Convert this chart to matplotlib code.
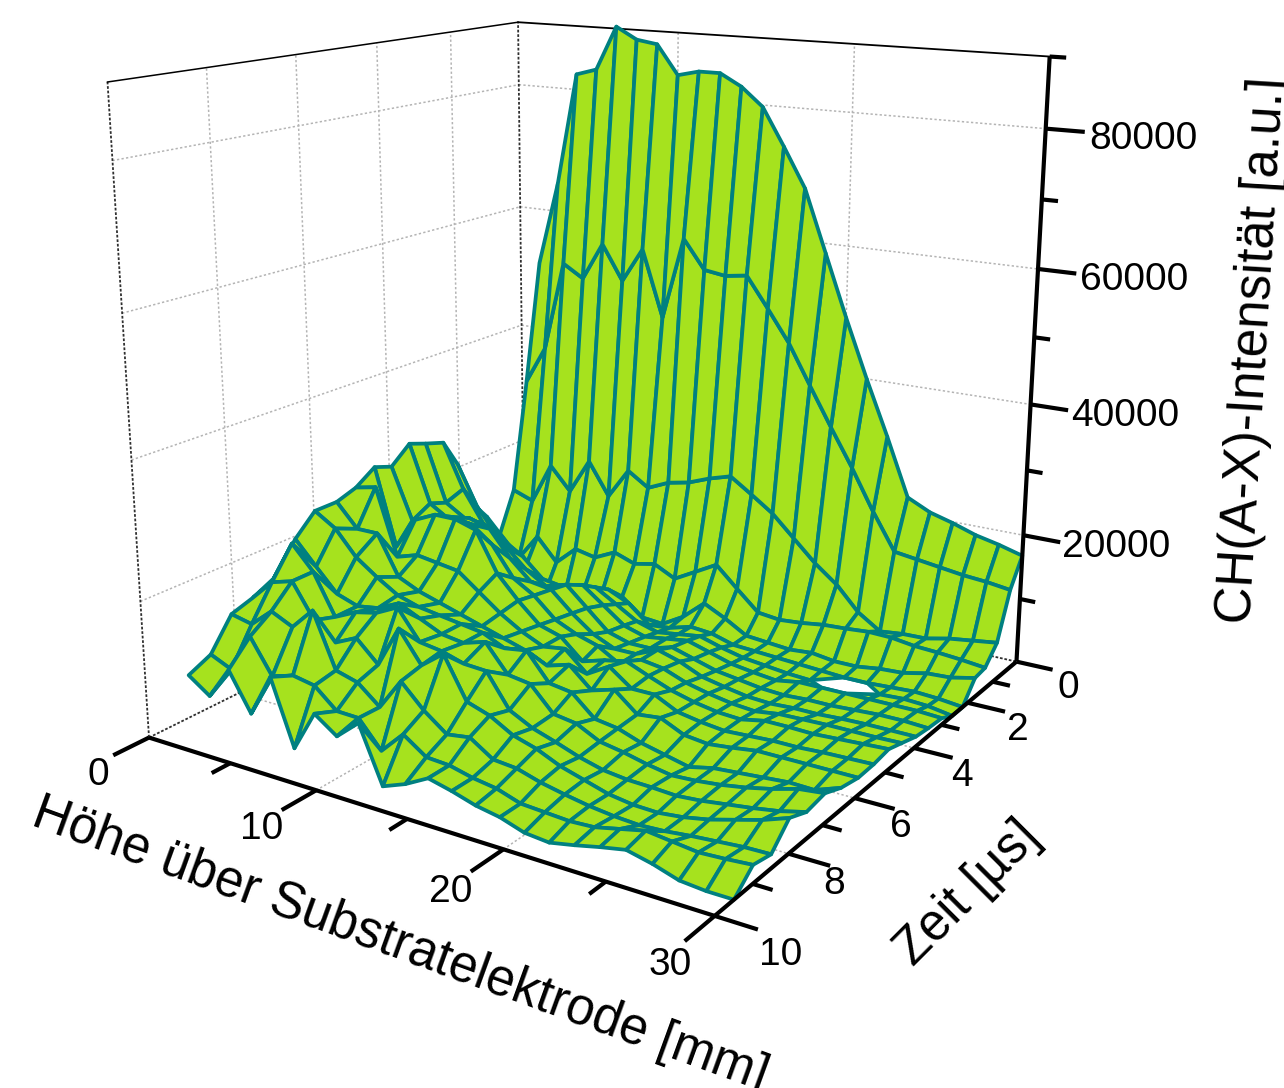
import warnings
import numpy as np
import matplotlib
matplotlib.use('Agg')
import matplotlib.pyplot as plt
from mpl_toolkits.mplot3d import proj3d

warnings.filterwarnings('ignore')
plt.rcParams['font.family'] = ['Liberation Sans', 'DejaVu Sans']

# height above substrate electrode [mm], time [us]
hoehe = [1.25, 2.5, 3.75, 5, 6.25, 7.5, 8.75, 10, 11.25, 12.5, 13.75, 15, 16.25, 17.5, 18.75, 20,
         21.25, 22.5, 23.75, 25, 26.25, 27.5, 28.75, 30]
zeit = [0, 0.45, 0.9, 1.35, 1.75, 2.2, 2.6, 3.0, 3.5, 3.95, 4.45, 4.9, 5.4, 5.9, 6.45, 6.95, 7.5, 8.0,
        8.5, 9.0, 9.5]
n = np.nan
# intensity in units of 100, one row per time step
intens = [
    [510, 645, 824, 834, 903, 885, 880, 835, 843, 843, 825, 797, 740, 680, 585, 490, 400, 315, 225, 208, 198, 186, 178, 168],
    [318, 379, 525, 505, 565, 510, 565, 460, 590, 545, 540, 545, 498, 449, 388, 328, 270, 207, 150, 145, 140, 135, 132, 127],
    [140, 128, 195, 158, 215, 163, 212, 190, 205, 212, 225, 235, 212, 188, 155, 122, 95, 58, 35, 39, 40, 48, 53, 58],
    [75, 40, 84, 47, 77, 70, 86, 74, 81, 64, 83, 102, 70, 39, 35, 38, 43, 45, 48, 47, 42, 40, 37, 33],
    [115, 50, 40, 2, 0, 20, 30, 30, 3, 0, 20, 50, 33, 13, 10, 7, 10, 5, 5, 10, 12, 20, 22, 30],
    [150, 115, 85, 60, 35, 25, 40, 55, 40, 12, 15, 25, 22, 12, 10, 8, 6, 4, 2, 2, 4, 6, 4, 0],
    [225, 160, 120, 95, 70, 50, 60, 70, 50, 30, 20, 25, 30, 20, 12, 8, 4, 2, n, n, 6, 8, 6, 0],
    [270, 200, 150, 130, 110, 80, 75, 85, 60, 35, 25, 30, 35, 25, 15, 10, 6, 12, 12, 12, 12, 12, 12, 10],
    [280, 190, 170, 165, 140, 110, 90, 100, 70, 40, 30, 30, 40, 30, 20, 15, 10, 8, 10, 10, 12, 14, 14, 12],
    [290, 200, 180, 190, 180, 140, 110, 105, 75, 50, 35, 35, 50, 40, 25, 18, 12, 10, 12, 12, 14, 15, 15, 15],
    [265, 185, 190, 205, 200, 175, 130, 110, 80, 65, 55, 35, 50, 45, 32, 24, 18, 15, 20, 21, 22, 22, 22, 23],
    [275, 155, 205, 220, 220, 210, 150, 115, 85, 75, 45, 55, 62, 48, 35, 26, 20, 18, 25, 25, 24, 26, 28, 30],
    [255, 262, 160, 170, 165, 160, 135, 110, 90, 75, 80, 50, 70, 45, 45, 28, 22, 18, 20, 22, 22, 24, 25, 26],
    [245, 210, 210, 150, 135, 125, 115, 105, 95, 85, 70, 80, 50, 60, 32, 36, 20, 16, 20, 25, 25, 25, 25, 25],
    [245, 225, 188, 165, 145, 135, 130, 125, 120, 105, 110, 70, 65, 35, 30, 18, 10, 2, 10, 13, 16, 19, 18, 31],
    [215, 180, 146, 135, 140, 155, 140, 125, 120, 130, 90, 85, 50, 45, 28, 22, 14, 8, 10, 14, 20, 28, 38, 42],
    [170, 230, 195, 135, 150, 157, 173, 130, 125, 115, 113, 65, 48, 37, 25, 16, 12, 11, 9, 12, 17, 22, 28, 37],
    [155, 186, 195, 145, 120, 135, 104, 165, 120, 145, 85, 74, 55, 45, 30, 20, 10, 5, 4, 8, 15, 25, 35, 48],
    [145, 138, 165, 150, 182, 103, 94, 67, 113, 80, 55, 60, 38, 35, 25, 18, 12, 8, 6, 8, 12, 15, 18, 19],
    [100, 86, 143, 93, 103, 97, 69, 68, 30, 63, 40, 38, 30, 25, 14, 12, 10, 12, 20, 28, 24, 20, 22, 25],
    [85, 63, 110, 55, 117, 23, 82, 59, 87, 7, 20, 38, 30, 20, 14, 3, 0, 7, 15, 22, 14, 3, 0, 0],
]

x_major = [0, 10, 20, 30]
x_minor = [5, 15, 25]
t_major = [0, 2, 4, 6, 8, 10]
t_minor = [1, 3, 5, 7, 9]
z_major = [0, 20000, 40000, 60000, 80000]
z_minor = [10000, 30000, 50000, 70000]
z_top = 90000

W, H = 1284, 1088
fig = plt.figure(figsize=(W / 100, H / 100), dpi=100)
L, left, top = 1096.17, 37.46, -137.0
ax = fig.add_axes([left / W, 1 - (top + L) / H, L / W, L / H], projection='3d', computed_zorder=False)
ax.view_init(elev=15.5631, azim=-56.9511, roll=0.0842)
ax.set_proj_type('persp', focal_length=0.3595)
ax.set_box_aspect((0.9986, 1.0003, 1.0))
ax.set_axis_off()

X, T = np.meshgrid(hoehe, zeit)
Z = np.array(intens, float) * 100
ax.plot_surface(X, T, Z, rstride=1, cstride=1, color='#A6E21E', edgecolor='#008080', linewidth=2.7,
                shade=False, antialiased=True, zorder=3)

grid_kw = dict(color='#b4b4b4', lw=1.1, ls=(0, (1.5, 1.5)), zorder=1)
dark_kw = dict(color='#303030', lw=1.3, ls=(0, (1.5, 1)), zorder=1)
axis_kw = dict(color='black', lw=3.0, zorder=4, solid_capstyle='butt')

for z in z_major[1:]:
    ax.plot([0, 0], [10, 0], [z, z], **grid_kw)
    ax.plot([0, 30], [0, 0], [z, z], **grid_kw)
for t in t_major[1:-1]:
    ax.plot([0, 0], [t, t], [0, z_top], **grid_kw)
    ax.plot([0, 30], [t, t], [0, 0], **grid_kw)
for x in x_major[1:-1]:
    ax.plot([x, x], [0, 0], [0, z_top], **grid_kw)
    ax.plot([x, x], [10, 0], [0, 0], **grid_kw)

# box edges
ax.plot([0, 0], [10, 0], [z_top, z_top], color='black', lw=1.1, zorder=2)
ax.plot([0, 30], [0, 0], [z_top, z_top], color='black', lw=1.3, zorder=2)
ax.plot([0, 0], [10, 10], [0, z_top], **dark_kw)
ax.plot([0, 0], [0, 0], [0, z_top], **dark_kw)
ax.plot([0, 0], [10, 0], [0, 0], **dark_kw)
ax.plot([0, 30], [0, 0], [0, 0], **dark_kw)

# axes with ticks
ax.plot([0, 30], [10, 10], [0, 0], **axis_kw)
ax.plot([30, 30], [10, 0], [0, 0], **axis_kw)
ax.plot([30, 30], [0, 0], [0, z_top], **axis_kw)
for x in x_major:
    ax.plot([x, x], [10, 10.75], [0, 0], **axis_kw)
for x in x_minor:
    ax.plot([x, x], [10, 10.4], [0, 0], **axis_kw)
for t in t_major:
    ax.plot([30, 31.9], [t, t], [0, 0], **axis_kw)
for t in t_minor:
    ax.plot([30, 30.9], [t, t], [0, 0], **axis_kw)
for z in z_major[1:]:
    ax.plot([30, 31.9], [0, 0], [z, z], **axis_kw)
for z in z_minor:
    ax.plot([30, 30.8], [0, 0], [z, z], **axis_kw)
ax.plot([30, 30.8], [0, 0], [z_top, z_top], **axis_kw)

ax.set_xlim(0, 30)
ax.set_ylim(10, 0)
ax.set_zlim(0, z_top)


def tick_text(x, t, z, s):
    # projected once so the label is an ordinary 2D text
    px, py, _ = proj3d.proj_transform(x, t, z, ax.get_proj())
    ax.text2D(px, py, s, transform=ax.transData, fontsize=28, ha='center', va='center')


for x, off in zip(x_major, [0.1, -0.2, -0.25, 0]):
    tick_text(x + off, 11.1, -1500, str(x))
for t, off in zip(t_major, [32.75, 32.6, 32.4, 32.2, 32.1, 32.9]):
    tick_text(off, t, -2300, str(t))
for z in z_major[1:]:
    tick_text(34.7, 0, z * 0.98 + 1300, str(z))

fig.text(400 / W, 1 - 945 / H, 'Höhe über Substratelektrode [mm]', fontsize=36.7, rotation=-20,
         ha='center', va='center', rotation_mode='anchor')
fig.text(968 / W, 1 - 893 / H, 'Zeit [µs]', fontsize=36.5, rotation=45, ha='center', va='center',
         rotation_mode='anchor')
fig.text(1253 / W, 1 - 350 / H, 'CH(A-X)-Intensität [a.u.]', fontsize=37, rotation=86.5, ha='center',
         va='center', rotation_mode='anchor')

fig.savefig('out.png', dpi=100)
